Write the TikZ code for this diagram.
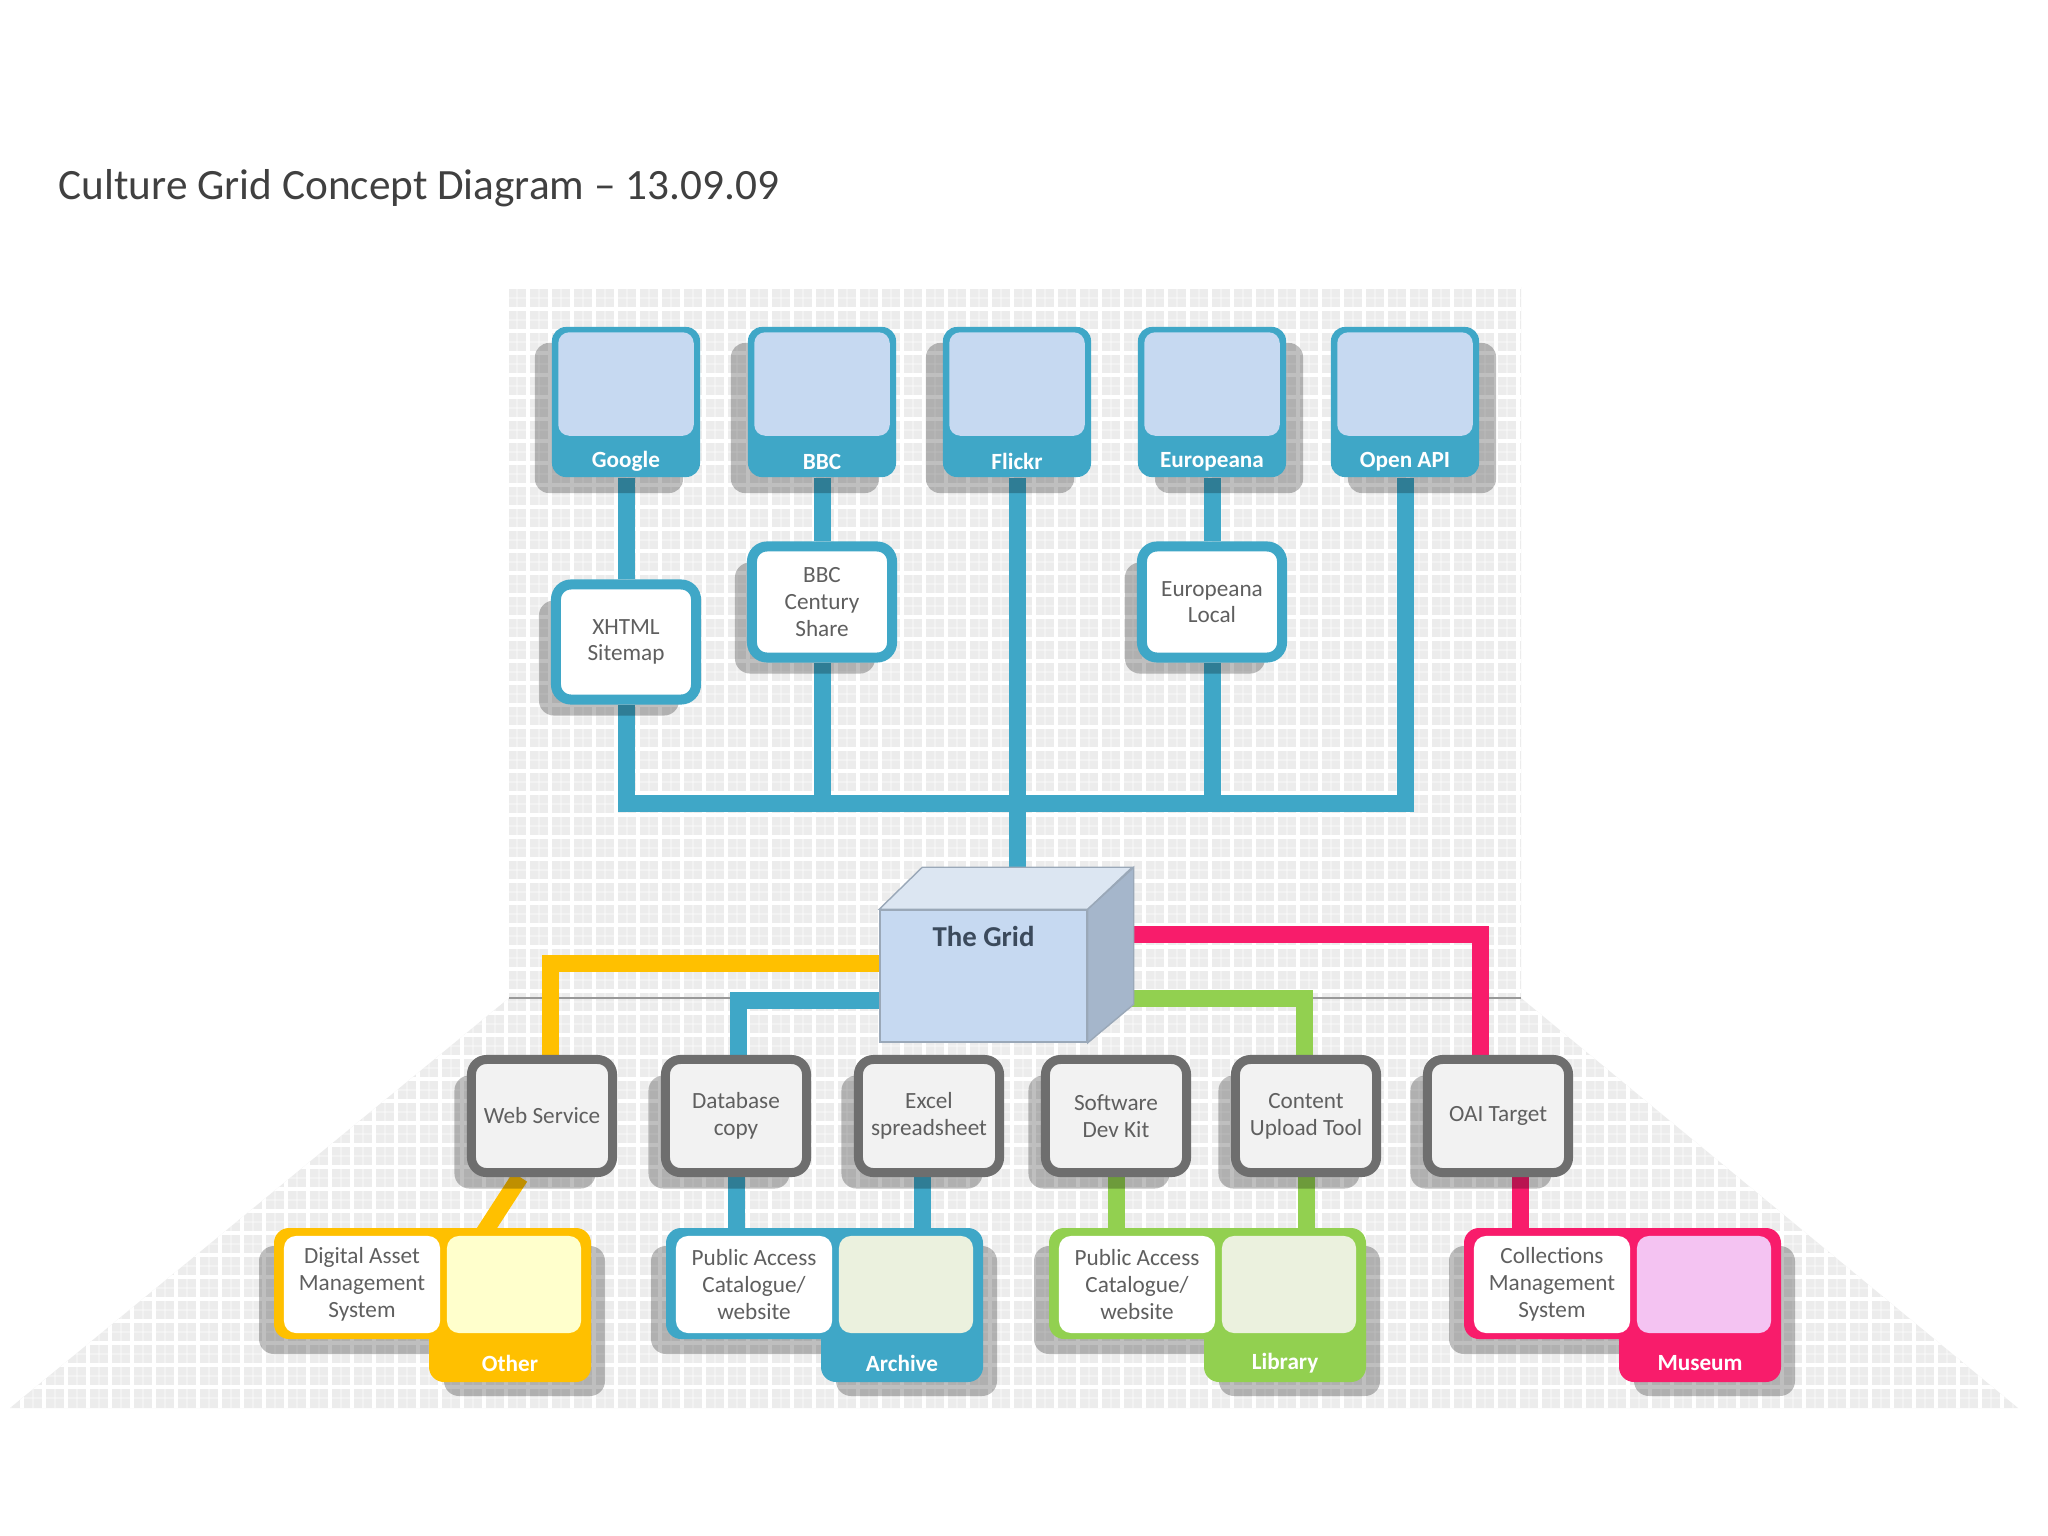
\documentclass[tikz,border=0pt]{standalone}
\usepackage{fontspec}
\setmainfont{Carlito}
\usetikzlibrary{shadows}
\definecolor{cgteal}{HTML}{3FA7C7}
\definecolor{cgsky}{HTML}{C6D9F1}
\definecolor{cgyellow}{HTML}{FFC000}
\definecolor{cgcream}{HTML}{FFFFCC}
\definecolor{cggreen}{HTML}{92D050}
\definecolor{cgpink}{HTML}{F81C6B}
\definecolor{cgsage}{HTML}{EBF1DE}
\definecolor{cgorchid}{HTML}{F4C3F2}
\definecolor{cgframe}{HTML}{6E6E6E}
\definecolor{cgpaper}{HTML}{F2F2F2}
\definecolor{cgtext}{HTML}{5F5F5F}
\definecolor{cgback}{HTML}{ECECEC}
\definecolor{cgtitle}{HTML}{404040}
\definecolor{cubefill}{HTML}{C6D9F1}
\definecolor{cubelight}{HTML}{DCE6F2}
\definecolor{cubedark}{HTML}{A5B6CB}
\definecolor{cubeedge}{HTML}{9AA8B8}
\definecolor{cubeink}{HTML}{3B4A5C}
\newcommand\boxfont{\fontsize{6.6}{7.6}\selectfont}
\pgfdeclarelayer{bg}
\pgfdeclarelayer{wires}
\pgfsetlayers{bg,wires,main}

\begin{document}
\begin{tikzpicture}[x=0.01cm, y=-0.01cm,
    lshade/.style={drop shadow={shadow xshift=-0.17cm, shadow yshift=-0.16cm, opacity=0.25, fill=black}},
    rshade/.style={drop shadow={shadow xshift=0.17cm, shadow yshift=-0.16cm, opacity=0.25, fill=black}},
    topbox/.style={fill=cgteal, rounded corners=0.14cm, minimum width=1.48cm, minimum height=1.5cm, inner sep=0pt},
    skypane/.style={fill=cgsky, rounded corners=0.11cm},
    toplabel/.style={text=white, font=\boxfont\bfseries, inner sep=0pt},
    midbox/.style={draw=cgteal, line width=0.1cm, fill=white, rounded corners=0.15cm, minimum width=1.4cm, minimum height=1.11cm, inner sep=0pt, align=center, font=\boxfont, text=cgtext},
    lowbox/.style={draw=cgframe, line width=0.09cm, fill=cgpaper, rounded corners=0.15cm, minimum width=1.41cm, minimum height=1.13cm, inner sep=0pt, align=center, font=\boxfont, text=cgtext},
    cubefront/.style={fill=cubefill, draw=cubeedge, line width=0.4pt, minimum width=2.07cm, minimum height=1.32cm, inner sep=0pt},
    cubetop/.style={fill=cubelight, draw=cubeedge, line width=0.4pt},
    cubeside/.style={fill=cubedark, draw=cubeedge, line width=0.4pt},
    gridlabel/.style={text=cubeink, font=\fontsize{8.2}{9}\selectfont\bfseries, inner sep=0pt},
    groupshade/.style={fill=black, fill opacity=0.25, rounded corners=0.15cm},
    paneleft/.style={fill=white, rounded corners=0.12cm, minimum width=1.56cm, minimum height=0.97cm, inner sep=0pt, align=center, font=\boxfont, text=cgtext},
    paneright/.style={rounded corners=0.12cm, minimum width=1.34cm, minimum height=0.97cm, inner sep=0pt},
    tablabel/.style={text=white, font=\boxfont\bfseries, inner sep=0pt},
    wire/.style={line width=0.17cm, line join=miter},
    gridline/.style={white, line width=0.035cm},
    fineline/.style={white, opacity=0.35, line width=0.012cm}]

\useasboundingbox (0,0) rectangle (2048,1536);

% title
\node[anchor=base west, inner sep=0pt, text=cgtitle, font=\fontsize{12.3}{14}\selectfont] (title) at (58,199) {Culture Grid Concept Diagram – 13.09.09};

% grid paper behind everything
\begin{pgfonlayer}{bg}
  \fill[white] (0,0) rectangle (2048,1536);
  \fill[cgback] (509,287) -- (1521,287) -- (1521,998) -- (2018,1408) -- (10,1408) -- (509,998) -- cycle;
  \begin{scope}
    \clip (509,287) -- (1521,287) -- (1521,998) -- (2018,1408) -- (10,1408) -- (509,998) -- cycle;
    \foreach \gx in {11,33,...,2046} \draw[fineline] (\gx,280) -- (\gx,1410);
    \foreach \gy in {298,320,...,1408} \draw[fineline] (0,\gy) -- (2048,\gy);
    \foreach \gx in {0,22,...,2046} \draw[gridline] (\gx,280) -- (\gx,1410);
    \foreach \gy in {287,309,...,1408} \draw[gridline] (0,\gy) -- (2048,\gy);
  \end{scope}
  \draw[black!40, line width=0.4pt] (509,998) -- (1521,998);
\end{pgfonlayer}

% outlets
\node[topbox, lshade] (google) at (626,402) {};
\node[topbox, lshade] (bbc) at (822,402) {};
\node[topbox, lshade] (flickr) at (1017,402) {};
\node[topbox, rshade] (europeana) at (1212,402) {};
\node[topbox, rshade] (openapi) at (1405,402) {};
\fill[skypane] ([shift={(7,6)}]google.north west) rectangle ([shift={(-7,-42)}]google.south east);
\fill[skypane] ([shift={(7,6)}]bbc.north west) rectangle ([shift={(-7,-42)}]bbc.south east);
\fill[skypane] ([shift={(7,6)}]flickr.north west) rectangle ([shift={(-7,-42)}]flickr.south east);
\fill[skypane] ([shift={(7,6)}]europeana.north west) rectangle ([shift={(-7,-42)}]europeana.south east);
\fill[skypane] ([shift={(7,6)}]openapi.north west) rectangle ([shift={(-7,-42)}]openapi.south east);
\node[toplabel] (googlelbl) at ([shift={(0,-16)}]google.south) {Google};
\node[toplabel] (bbclbl) at ([shift={(0,-16)}]bbc.south) {BBC};
\node[toplabel] (flickrlbl) at ([shift={(0,-16)}]flickr.south) {Flickr};
\node[toplabel] (europeanalbl) at ([shift={(0,-16)}]europeana.south) {Europeana};
\node[toplabel] (openapilbl) at ([shift={(0,-16)}]openapi.south) {Open API};

\node[midbox, lshade, minimum height=1.15cm] (xhtml) at (626,642) {XHTML\\Sitemap};
\node[midbox, lshade] (bbccs) at (822,602) {BBC\\Century\\Share};
\node[midbox, lshade] (eurolocal) at (1212,602) {Europeana\\Local};

% the grid cube
\node[cubefront] (grid) at (983.5,976) {};
\draw[cubetop] (grid.north west) -- ++(43,-42) -- ++(210,0) -- (grid.north east) -- cycle;
\draw[cubeside] (grid.north east) -- ++(46,-42) -- ++(0,137) -- (grid.south east) -- cycle;
\node[gridlabel] (gridlbl) at ([shift={(0,27)}]grid.north) {The Grid};

% ways in
\node[lowbox, lshade] (websvc) at (542,1116) {Web Service};
\node[lowbox, lshade] (dbcopy) at (736,1116) {Database\\copy};
\node[lowbox, lshade] (excel) at (929,1116) {Excel\\spreadsheet};
\node[lowbox, lshade] (sdk) at (1116,1116) {Software\\Dev Kit};
\node[lowbox, lshade] (cut) at (1306,1116) {Content\\Upload Tool};
\node[lowbox, lshade] (oai) at (1498,1116) {OAI Target};

% other
\fill[groupshade] (259,1246) rectangle (574,1354) (444,1246) rectangle (605,1396);
\fill[cgyellow, rounded corners=0.15cm] (274,1228) rectangle (591,1339) (429,1228) rectangle (591,1382);
\node[paneleft] (dams) at (362,1284.5) {Digital Asset\\Management\\System};
\node[paneright, fill=cgcream] (otherpane) at (514,1284.5) {};
\node[tablabel] (other) at (510,1363) {Other};

% archive
\fill[groupshade] (651,1246) rectangle (966,1354) (836,1246) rectangle (997,1396);
\fill[cgteal, rounded corners=0.15cm] (666,1228) rectangle (983,1339) (821,1228) rectangle (983,1382);
\node[paneleft] (pac) at (754,1284.5) {Public Access\\Catalogue/\\website};
\node[paneright, fill=cgsage] (archpane) at (906,1284.5) {};
\node[tablabel] (archive) at (902,1363) {Archive};

% library
\fill[groupshade] (1034,1246) rectangle (1349,1354) (1219,1246) rectangle (1380,1396);
\fill[cggreen, rounded corners=0.15cm] (1049,1228) rectangle (1366,1339) (1204,1228) rectangle (1366,1382);
\node[paneleft] (paclib) at (1137,1284.5) {Public Access\\Catalogue/\\website};
\node[paneright, fill=cgsage] (libpane) at (1289,1284.5) {};
\node[tablabel] (library) at (1285,1363) {Library};

% museum
\fill[groupshade] (1449,1246) rectangle (1764,1354) (1634,1246) rectangle (1795,1396);
\fill[cgpink, rounded corners=0.15cm] (1464,1228) rectangle (1781,1339) (1619,1228) rectangle (1781,1382);
\node[paneleft] (cms) at (1552,1284.5) {Collections\\Management\\System};
\node[paneright, fill=cgorchid] (musepane) at (1704,1284.5) {};
\node[tablabel] (museum) at (1700,1363) {Museum};

% connectors
\begin{pgfonlayer}{wires}
  \draw[wire, cgteal] (google.south) -- (xhtml.north);
  \draw[wire, cgteal] (bbc.south) -- (bbccs.north);
  \draw[wire, cgteal] (europeana.south) -- (eurolocal.north);
  \draw[wire, cgteal] (xhtml.south) |- (openapi.south |- 0,803) -- (openapi.south);
  \draw[wire, cgteal] (bbccs.south) -- (bbccs.south |- 0,803);
  \draw[wire, cgteal] (eurolocal.south) -- (eurolocal.south |- 0,803);
  \draw[wire, cgteal] (flickr.south) -- (flickr.south |- 0,868);
  \draw[wire, cgyellow] ([yshift=0.13cm]grid.west) -| ([xshift=0.08cm]websvc.north);
  \draw[wire, cgteal] ([yshift=-0.24cm]grid.west) -| ([xshift=0.02cm]dbcopy.north);
  \draw[wire, cgpink] ([yshift=0.41cm]grid.east) -| ([xshift=-0.18cm]oai.north);
  \draw[wire, cggreen] ([yshift=-0.22cm]grid.east) -| ([xshift=-0.02cm]cut.north);
  \draw[wire, cgyellow] ([xshift=-0.22cm]websvc.south) -- ([xshift=0.36cm]otherpane.north west);
  \draw[wire, cgteal] (dbcopy.south) -- (dbcopy.south |- pac.north);
  \draw[wire, cgteal] ([xshift=-0.07cm]excel.south) -- ([xshift=-0.07cm]excel.south |- archpane.north);
  \draw[wire, cggreen] (sdk.south) -- (sdk.south |- paclib.north);
  \draw[wire, cggreen] (cut.south) -- (cut.south |- libpane.north);
  \draw[wire, cgpink] ([xshift=0.22cm]oai.south) -- ([xshift=0.22cm]oai.south |- cms.north);
\end{pgfonlayer}
\end{tikzpicture}
\end{document}
